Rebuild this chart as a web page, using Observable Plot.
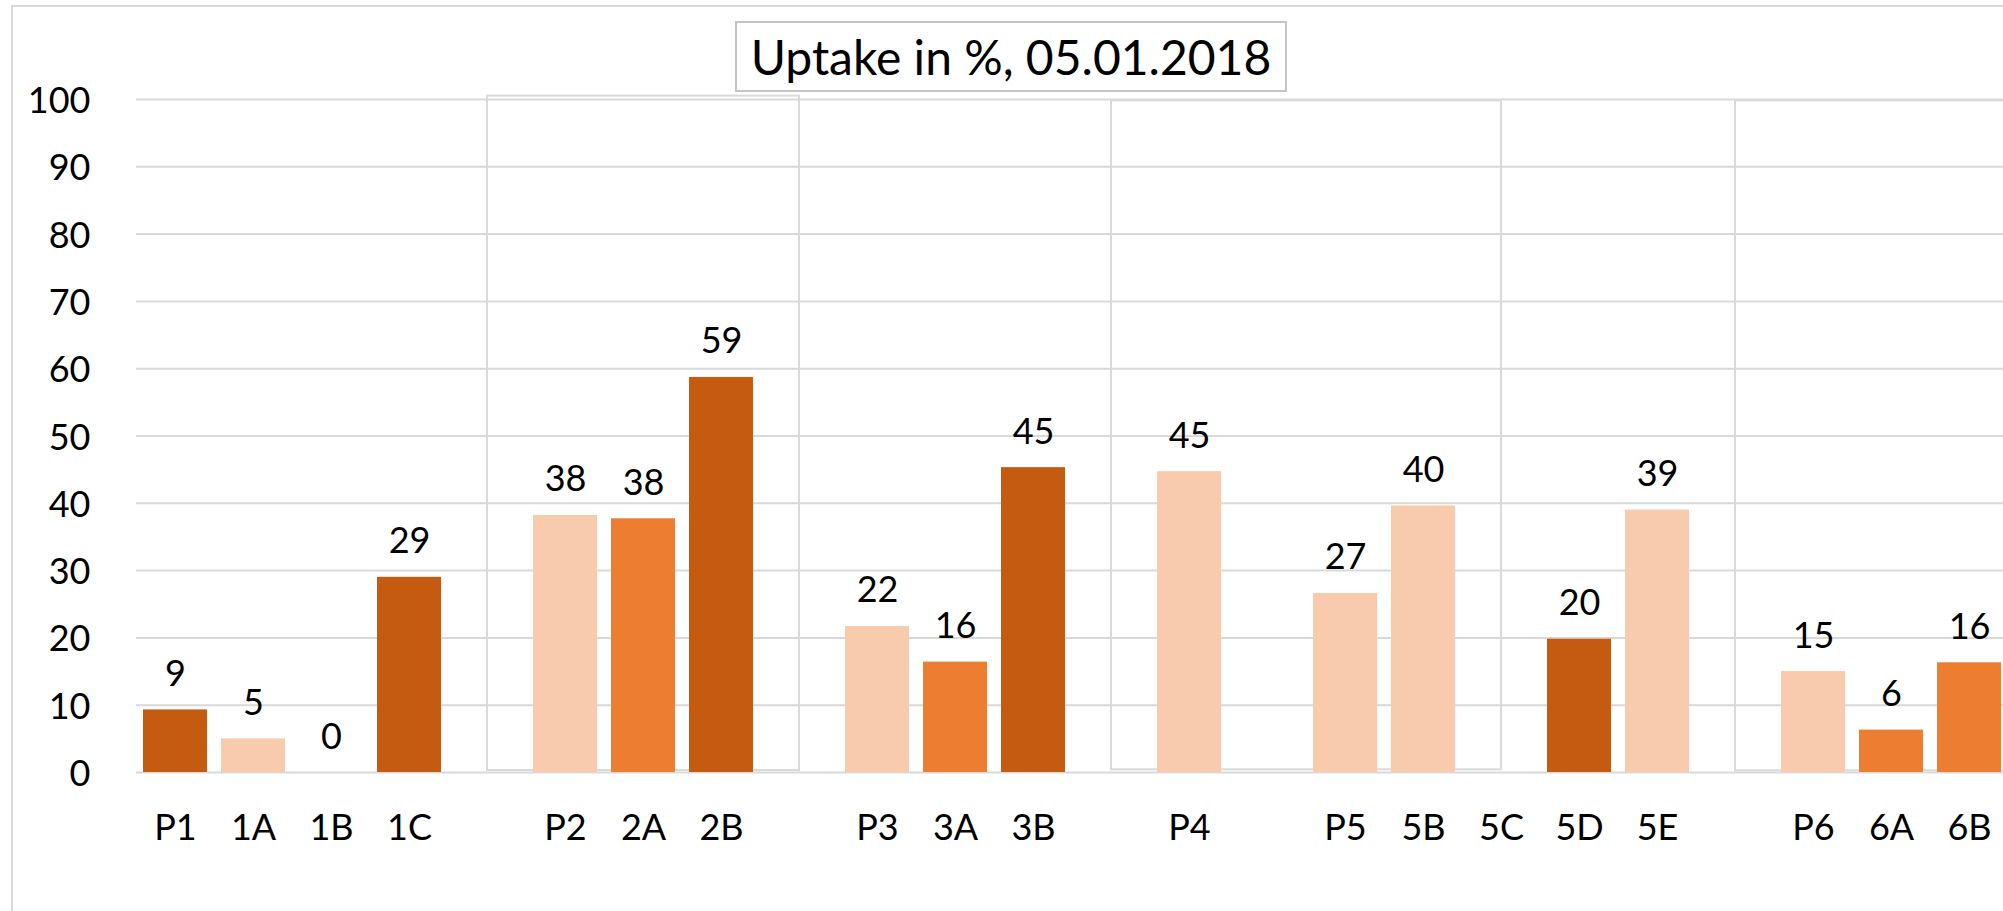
<!DOCTYPE html>
<html>
<head>
<meta charset="utf-8">
<script src="https://cdn.jsdelivr.net/npm/d3@7"></script>
<script src="https://cdn.jsdelivr.net/npm/@observablehq/plot@0.6"></script>
<style>
  html, body { margin: 0; padding: 0; background: #fff; overflow: hidden; }
  #wrap { position: relative; width: 2003px; height: 911px; overflow: hidden; background: #fff; }
  #frame { position: absolute; left: 11px; top: 5px; width: 3000px; height: 3000px;
           border: 2px solid #d9d9d9; box-sizing: border-box; pointer-events: none; }
  #chart { position: absolute; left: 0; top: 0; }
  #title { position: absolute; left: 735px; top: 21px; width: 552px; height: 71px;
           box-sizing: border-box; border: 2px solid #c4c4c4; background: #fff;
           display: flex; align-items: center; justify-content: center;
           font-family: Lato, sans-serif; font-size: 48px; color: #000; white-space: nowrap; }
</style>
</head>
<body>
<div id="wrap">
  <div id="chart"></div>
  <div id="frame"></div>
  <div id="title">Uptake in %, 05.01.2018</div>
</div>
<script>
// ---- data ----
const categories = ["P1","1A","1B","1C","","P2","2A","2B","","P3","3A","3B","","P4","","P5","5B","5C","5D","5E","","P6","6A","6B"];
const values     = [9.3, 5.0, 0, 29.0, null, 38.2, 37.7, 58.7, null, 21.7, 16.4, 45.3, null, 44.7, null, 26.6, 39.6, null, 19.8, 39.0, null, 15.0, 6.3, 16.3];
const levels     = [3, 1, null, 3, null, 1, 2, 3, null, 1, 2, 3, null, 1, null, 1, 1, null, 3, 1, null, 1, 2, 2];
const yTicks     = [0, 10, 20, 30, 40, 50, 60, 70, 80, 90, 100];
// group outline boxes, in category-slot units and value units
const boxStart   = [4, 12, 20];
const boxEnd     = [8, 17, 27];
const boxTop     = [100.5, 99.8, 99.8];
const boxBottom  = [0.3, 0.4, 0.25];

const levelDomain = [1, 2, 3];
const levelColors = ["#F8CBAD", "#ED7D31", "#C55A11"];

const rows = categories.map((c, i) => ({i, cat: c, value: values[i], level: levels[i]}));
const bars = rows.filter(d => d.value != null && d.value > 0);
const labeled = rows.filter(d => d.value != null);
const boxes = boxStart.map((s, k) => ({s, e: boxEnd[k], t: boxTop[k], b: boxBottom[k]}));
const tickIdx = rows.filter(d => d.cat !== "").map(d => d.i);

const half = 0.41;

const chart = Plot.plot({
  width: 2003,
  height: 911,
  marginLeft: 136,
  marginRight: 0,
  marginTop: 99,
  marginBottom: 139,
  style: {fontFamily: "Lato, sans-serif", fontSize: "36px", color: "#000", background: "transparent", overflow: "hidden"},
  x: {type: "linear", domain: [-0.5, categories.length - 0.5], range: [136, 136 + 78 * categories.length], axis: null},
  y: {domain: [0, 100], axis: null},
  color: {type: "ordinal", domain: levelDomain, range: levelColors},
  marks: [
    Plot.gridY(yTicks, {stroke: "#d9d9d9", strokeOpacity: 1, strokeWidth: 2}),
    Plot.rect(boxes, {x1: "s", x2: "e", y1: "b", y2: "t", fill: "none", stroke: "#d9d9d9", strokeWidth: 2}),
    Plot.rect(bars, {x1: d => d.i - half, x2: d => d.i + half, y1: 0, y2: "value", fill: "level"}),
    Plot.text(labeled, {x: "i", y: "value", text: d => String(Math.round(d.value)), lineAnchor: "bottom", dy: -24, fill: "#000"}),
    Plot.axisY({ticks: yTicks, tickSize: 0, tickPadding: 46, label: null, dy: 2}),
    Plot.axisX({ticks: tickIdx, tickFormat: i => categories[i], tickSize: 0, tickPadding: 42, label: null})
  ]
});
document.getElementById("chart").appendChild(chart);
</script>
</body>
</html>
